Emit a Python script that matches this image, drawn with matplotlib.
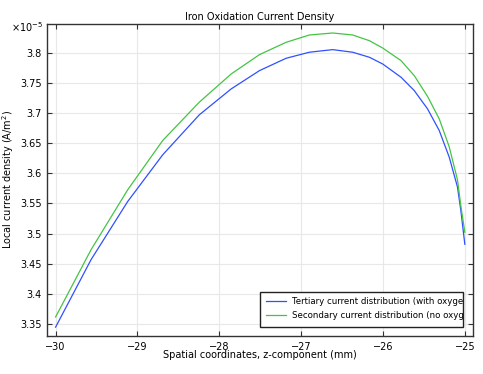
import matplotlib
matplotlib.use('Agg')
import matplotlib.pyplot as plt
from matplotlib.patches import Rectangle
from matplotlib.lines import Line2D
from matplotlib.transforms import Bbox, TransformedBbox

# z-coordinate (mm) and local current density (x1e-5 A/m^2)
z = [-30.0, -29.566, -29.118, -28.691, -28.244, -27.854, -27.509, -27.183,
     -26.899, -26.615, -26.371, -26.167, -26.005, -25.78, -25.618, -25.456,
     -25.313, -25.191, -25.09, -25.049, -25.0]
tertiary = [3.3447, 3.4568, 3.5533, 3.6306, 3.6969, 3.7399, 3.7702, 3.7907,
            3.8007, 3.8050, 3.8007, 3.7924, 3.7813, 3.7593, 3.7371, 3.7068,
            3.6709, 3.6268, 3.5772, 3.5384, 3.4821]
secondary = [3.3615, 3.4733, 3.5727, 3.6543, 3.7179, 3.7647, 3.7967, 3.8172,
             3.8293, 3.8326, 3.8293, 3.8199, 3.8078, 3.7868, 3.7619, 3.7275,
             3.6902, 3.6439, 3.5892, 3.5460, 3.5020]
labels = ['Tertiary current distribution (with oxygen)',
          'Secondary current distribution (no oxygen)']
colors = ['#3050ff', '#44c444']

plt.rcParams['font.family'] = 'DejaVu Sans'
fig = plt.figure(figsize=(4.83, 3.74), dpi=100)
ax = fig.add_axes([0.0973, 0.1016, 0.8817, 0.8342])

ax.plot(z, tertiary, color=colors[0], lw=0.9)
ax.plot(z, secondary, color=colors[1], lw=0.9)

ax.set_xlim(-30.105, -24.902)
ax.set_ylim(3.330, 3.8475)
ax.set_xticks([-30, -29, -28, -27, -26, -25])
ax.set_yticks([3.35, 3.4, 3.45, 3.5, 3.55, 3.6, 3.65, 3.7, 3.75, 3.8])
ax.set_yticklabels(['3.35', '3.4', '3.45', '3.5', '3.55', '3.6', '3.65', '3.7', '3.75', '3.8'])
ax.grid(True, color='#e8e8e8', lw=0.8)
ax.set_axisbelow(True)
ax.tick_params(direction='in', top=True, right=True, labelsize=7, length=3.5,
               width=0.8, color='#333333', pad=4)
for s in ax.spines.values():
    s.set_color('#333333')
    s.set_linewidth(1.0)

ax.set_title('Iron Oxidation Current Density', fontsize=7, pad=3)
ax.set_xlabel('Spatial coordinates, z-component (mm)', fontsize=7, labelpad=-1)
ax.set_ylabel('Local current density (A/m$^2$)', fontsize=7, labelpad=3)
fig.text(0.023, 0.915, r'$\times$10$^{-5}$', fontsize=7)

# legend box with clipped text, like the original export
bx = (0.5, 0.029, 0.4765, 0.113)
box = Rectangle(bx[:2], bx[2], bx[3], transform=ax.transAxes,
                facecolor='white', edgecolor='#222222', lw=1.0, zorder=5)
ax.add_patch(box)
clip = TransformedBbox(Bbox.from_bounds(*bx), ax.transAxes)
for i, (lab, c) in enumerate(zip(labels, colors)):
    yy = 0.111 - i * 0.045
    ax.add_line(Line2D([0.515, 0.562], [yy, yy], transform=ax.transAxes,
                       color=c, lw=0.9, zorder=6))
    t = ax.text(0.575, yy, lab, transform=ax.transAxes, fontsize=6.2,
                va='center', zorder=6, clip_on=True)
    t.set_clip_box(clip)

fig.savefig('out.png', dpi=100)
